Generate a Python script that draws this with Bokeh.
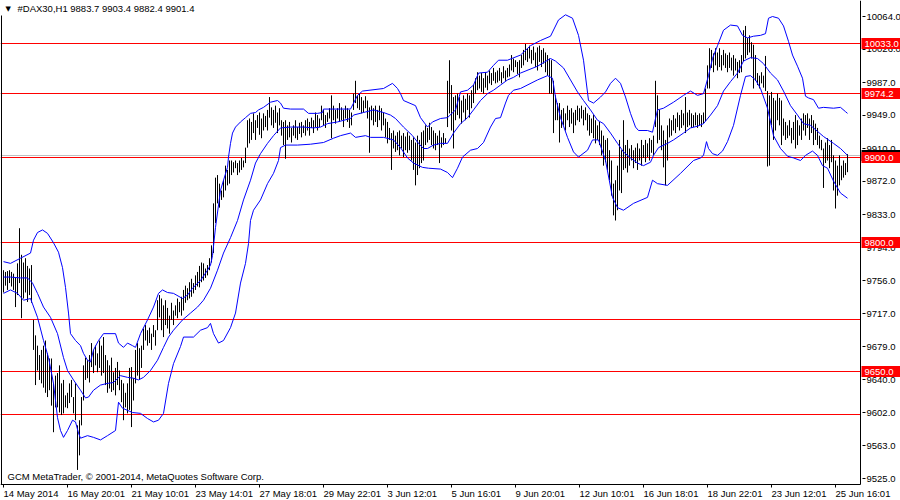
from bokeh.plotting import figure
from bokeh.models import Range1d, FixedTicker, Label
from bokeh.core.properties import value
from bokeh.embed import file_html
from bokeh.resources import INLINE

# ---- data (H1 bars, high / low) ----
highs = [
    9768, 9766, 9767, 9768, 9766, 9764, 9760, 9776, 9817, 9786,
    9777, 9782, 9773, 9770, 9774, 9710, 9692, 9680, 9669, 9675,
    9680, 9686, 9671, 9665, 9665, 9636, 9645, 9648, 9657, 9636,
    9640, 9622, 9625, 9636, 9640, 9620, 9636, 9587, 9593, 9620,
    9657, 9666, 9663, 9669, 9683, 9675, 9680, 9671, 9686, 9680,
    9690, 9669, 9663, 9657, 9666, 9649, 9654, 9661, 9651, 9640,
    9636, 9625, 9636, 9654, 9655, 9642, 9675, 9683, 9677, 9680,
    9700, 9704, 9698, 9701, 9694, 9704, 9698, 9733, 9739, 9735,
    9727, 9733, 9724, 9715, 9730, 9721, 9727, 9735, 9731, 9737,
    9745, 9750, 9747, 9754, 9758, 9753, 9762, 9766, 9773, 9777,
    9776, 9770, 9774, 9782, 9797, 9846, 9876, 9879, 9869, 9861,
    9873, 9890, 9885, 9896, 9896, 9894, 9896, 9893, 9896, 9899,
    9896, 9911, 9943, 9945, 9941, 9951, 9943, 9949, 9952, 9945,
    9951, 9948, 9955, 9970, 9958, 9955, 9960, 9952, 9957, 9943,
    9941, 9943, 9937, 9941, 9934, 9937, 9943, 9935, 9940, 9941,
    9937, 9943, 9945, 9941, 9946, 9943, 9952, 9949, 9945, 9960,
    9955, 9949, 9952, 9957, 9972, 9960, 9955, 9957, 9963, 9958,
    9955, 9960, 9957, 9955, 9952, 9974, 9989, 9972, 9974, 9970,
    9966, 9971, 9966, 9958, 9960, 9957, 9960, 9955, 9960, 9957,
    9952, 9945, 9941, 9934, 9928, 9931, 9925, 9929, 9931, 9925,
    9928, 9924, 9929, 9925, 9920, 9923, 9917, 9925, 9920, 9929,
    9931, 9937, 9934, 9940, 9935, 9931, 9928, 9925, 9931, 9923,
    9928, 9922, 9989, 10013, 9984, 9970, 9972, 9974, 9970, 9966,
    9972, 9968, 9974, 9972, 9978, 9984, 9992, 9999, 9995, 9998,
    9992, 9999, 9995, 10001, 9998, 10004, 9999, 10001, 10004, 9999,
    10006, 10001, 10004, 10008, 10019, 10015, 10013, 10011, 10013, 10019,
    10025, 10032, 10027, 10030, 10025, 10029, 10022, 10028, 10030, 10025,
    10027, 10022, 10019, 10015, 10013, 9989, 9972, 9963, 9963, 9955,
    9957, 9951, 9960, 9955, 9957, 9952, 9955, 9960, 9957, 9960,
    9955, 9958, 9951, 9949, 9945, 9949, 9943, 9937, 9941, 9931,
    9925, 9920, 9922, 9908, 9896, 9869, 9873, 9890, 9920, 9908,
    9943, 9914, 9920, 9910, 9914, 9908, 9911, 9916, 9910, 9920,
    9914, 9920, 9916, 9922, 9920, 9925, 9989, 9972, 9955, 9937,
    9931, 9920, 9937, 9945, 9943, 9949, 9945, 9952, 9949, 9955,
    9951, 9970, 9952, 9955, 9951, 9949, 9952, 9949, 9951, 9949,
    9952, 9980, 10007, 10027, 10025, 10021, 10027, 10022, 10027, 10019,
    10025, 10021, 10019, 10022, 10016, 10019, 10015, 10011, 10013, 10019,
    10048, 10053, 10039, 10042, 10034, 10031, 10019, 9998, 9995, 9999,
    9995, 10018, 9977, 9972, 9976, 9969, 9966, 9974, 9969, 9966,
    9945, 9941, 9937, 9943, 9934, 9941, 9949, 9943, 9937, 9945,
    9951, 9949, 9951, 9945, 9949, 9943, 9939, 9934, 9925, 9920,
    9910, 9917, 9922, 9914, 9920, 9902, 9896, 9890, 9902, 9890,
    9896, 9893, 9903.4,
]
lows = [
    9742, 9750, 9745, 9753, 9749, 9745, 9725, 9739, 9753, 9712,
    9735, 9742, 9731, 9739, 9730, 9675, 9634, 9651, 9640, 9636,
    9631, 9625, 9620, 9628, 9610, 9579, 9608, 9608, 9602, 9599,
    9601, 9608, 9607, 9613, 9620, 9601, 9593, 9535, 9552, 9587,
    9616, 9640, 9642, 9637, 9655, 9648, 9657, 9649, 9654, 9645,
    9648, 9634, 9625, 9630, 9626, 9628, 9622, 9634, 9628, 9614,
    9593, 9608, 9601, 9605, 9585, 9616, 9636, 9645, 9640, 9654,
    9675, 9686, 9680, 9683, 9675, 9690, 9680, 9698, 9713, 9698,
    9690, 9704, 9700, 9694, 9710, 9704, 9715, 9712, 9719, 9715,
    9721, 9730, 9733, 9735, 9737, 9741, 9745, 9749, 9748, 9754,
    9756, 9759, 9762, 9768, 9777, 9788, 9823, 9846, 9841, 9850,
    9853, 9861, 9867, 9869, 9879, 9882, 9887, 9879, 9882, 9885,
    9888, 9893, 9911, 9916, 9920, 9928, 9920, 9934, 9926, 9922,
    9931, 9935, 9931, 9946, 9937, 9934, 9940, 9928, 9937, 9925,
    9914, 9898, 9920, 9923, 9917, 9925, 9922, 9920, 9927, 9923,
    9928, 9925, 9931, 9925, 9934, 9928, 9935, 9931, 9935, 9943,
    9937, 9934, 9941, 9945, 9922, 9943, 9939, 9945, 9941, 9943,
    9935, 9945, 9941, 9934, 9937, 9955, 9963, 9957, 9955, 9951,
    9952, 9957, 9945, 9905, 9943, 9937, 9941, 9935, 9943, 9931,
    9937, 9923, 9916, 9920, 9885, 9910, 9906, 9908, 9902, 9910,
    9900, 9908, 9905, 9908, 9896, 9885, 9867, 9879, 9887, 9893,
    9896, 9914, 9917, 9920, 9914, 9910, 9908, 9914, 9893, 9911,
    9914, 9916, 9935, 9951, 9931, 9910, 9943, 9949, 9945, 9939,
    9952, 9943, 9955, 9946, 9957, 9963, 9974, 9978, 9980, 9976,
    9974, 9981, 9978, 9986, 9984, 9989, 9986, 9987, 9989, 9986,
    9992, 9989, 9993, 9994, 10001, 9999, 10005, 9997, 9993, 10004,
    10007, 10013, 10011, 10015, 10009, 10013, 10005, 10001, 10011, 10005,
    10009, 9999, 9995, 9974, 9974, 9928, 9943, 9943, 9917, 9934,
    9937, 9931, 9943, 9935, 9939, 9928, 9937, 9943, 9941, 9945,
    9937, 9943, 9931, 9925, 9928, 9922, 9916, 9920, 9914, 9902,
    9890, 9894, 9885, 9873, 9855, 9832, 9826, 9838, 9861, 9858,
    9885, 9887, 9882, 9890, 9896, 9887, 9893, 9885, 9896, 9890,
    9899, 9894, 9900, 9896, 9905, 9902, 9935, 9916, 9920, 9908,
    9888, 9867, 9896, 9923, 9925, 9931, 9928, 9935, 9931, 9934,
    9937, 9928, 9935, 9937, 9934, 9935, 9937, 9934, 9937, 9935,
    9939, 9942, 9980, 9980, 10004, 9999, 10007, 10001, 10005, 10001,
    10007, 10004, 9999, 10004, 10001, 9995, 10001, 9992, 9998, 9999,
    10012, 10015, 10019, 10022, 10015, 9980, 9989, 9984, 9980, 9986,
    9981, 9977, 9889, 9890, 9937, 9920, 9931, 9943, 9937, 9914,
    9925, 9920, 9922, 9925, 9916, 9920, 9910, 9914, 9925, 9920,
    9931, 9925, 9934, 9920, 9928, 9914, 9920, 9914, 9910, 9908,
    9864, 9893, 9896, 9887, 9894, 9861, 9840, 9855, 9867, 9873,
    9876, 9879, 9882.4,
]

# Bollinger bands: (bar index, price)
upper_band = [
    (0, 9778), (3.5, 9776), (8.5, 9782), (13.5, 9788), (15, 9803), (17, 9812), (19.5, 9815),
    (22, 9811), (25, 9800), (27.5, 9789), (29.5, 9771), (31, 9748), (32.5, 9718), (33.5, 9694),
    (36, 9686), (38.5, 9680), (40, 9671), (42, 9663), (43.5, 9661), (45, 9675), (47.5, 9686),
    (50, 9694), (56, 9694), (57.5, 9683), (60, 9678), (62, 9683), (64.5, 9680), (66, 9678),
    (68.5, 9694), (72, 9710), (75, 9725), (77.5, 9741), (79.5, 9745), (82, 9742), (85, 9741),
    (89.5, 9735), (92, 9739), (94.5, 9747), (98.5, 9756), (102, 9768), (103.5, 9774), (104.5, 9785),
    (106, 9818), (108.5, 9861), (110, 9873), (112, 9888), (112.5, 9900), (113.5, 9916), (114.5, 9928),
    (116, 9935), (118.5, 9941), (121, 9946), (123.5, 9951), (126, 9952), (127.5, 9955), (130, 9958),
    (133.5, 9964), (137, 9966), (138.5, 9963), (140, 9957), (143.5, 9956), (150, 9956), (152.5, 9951),
    (157, 9951), (159.5, 9952), (160, 9956), (168.5, 9956), (173.5, 9956), (177, 9972), (179.5, 9977),
    (190, 9980), (194.5, 9986), (197, 9980), (198.5, 9974), (200, 9966), (206, 9960), (208.5, 9946),
    (212, 9935), (214.5, 9941), (218.5, 9945), (222, 9946), (226, 9955), (228.5, 9976), (232, 9978),
    (235, 9984), (237.5, 9998), (242, 9999), (245, 10007), (247.5, 10013), (252, 10013), (258.5, 10019),
    (263.5, 10030), (268.5, 10036), (273.5, 10041), (277.5, 10060), (281, 10066), (284.5, 10062),
    (287.5, 10042), (290, 10013), (292.5, 9966), (295, 9963), (298.5, 9970), (301, 9976), (303.5, 9986),
    (306, 9992), (308.5, 9986), (311, 9970), (313.5, 9951), (316, 9935), (317.5, 9931), (322, 9931),
    (324.5, 9929), (326, 9945), (327, 9955), (330, 9957), (335, 9964), (340, 9972), (343.5, 9977),
    (347, 9972), (350, 9974), (352.5, 9995), (354.5, 10015), (357, 10030), (360, 10048), (363.5, 10054),
    (367, 10053), (369.5, 10042), (372, 10039), (375, 10041), (378.5, 10042), (381, 10044), (382.5, 10062),
    (384.5, 10064), (387.5, 10062), (390, 10053), (392.5, 10035), (394.5, 10019), (397, 10006),
    (399.5, 9992), (401, 9971), (402.5, 9969), (405, 9967), (407.5, 9957), (410, 9958), (415, 9957),
    (418.5, 9958), (421, 9953), (422, 9951),
]
middle_band = [
    (0, 9760), (3.5, 9760), (8.5, 9759), (12, 9759), (14.5, 9753), (17, 9741), (20, 9725),
    (23.5, 9713), (27, 9694), (30, 9666), (32, 9651), (35, 9640), (38.5, 9628), (41, 9619),
    (42.5, 9620), (45, 9628), (48.5, 9634), (52, 9636), (55, 9637), (58.5, 9645), (62, 9643),
    (65, 9642), (67.5, 9640), (70, 9643), (73.5, 9651), (77, 9663), (80, 9678), (82.5, 9690),
    (85, 9698), (89.5, 9710), (93.5, 9718), (97, 9725), (100, 9733), (103.5, 9747), (107, 9768),
    (110, 9788), (113.5, 9806), (117, 9826), (120, 9850), (123.5, 9873), (126, 9893), (128.5, 9904),
    (132, 9916), (135, 9925), (138.5, 9934), (143.5, 9935), (150, 9935), (155, 9934), (158.5, 9935),
    (162, 9939), (167, 9941), (173.5, 9945), (175, 9949), (180, 9952), (185, 9955), (190, 9952),
    (193.5, 9949), (196, 9945), (200, 9935), (204.5, 9925), (207.5, 9916), (210, 9910), (212, 9910),
    (215, 9914), (218.5, 9916), (222, 9916), (225, 9928), (228.5, 9939), (232, 9946), (235, 9955),
    (238.5, 9966), (242, 9974), (245, 9978), (248.5, 9984), (252, 9990), (255, 9993), (258.5, 9998),
    (267, 10006), (273.5, 10015), (276, 10012), (280, 10004), (283.5, 9990), (287, 9976), (290, 9966),
    (293.5, 9955), (297, 9943), (300, 9939), (303.5, 9928), (307, 9916), (310, 9906), (313.5, 9899),
    (317, 9893), (320, 9890), (323.5, 9894), (325, 9902), (327.5, 9911), (332, 9916), (335, 9920),
    (340, 9928), (343.5, 9934), (347, 9936), (350, 9939), (353.5, 9949), (357, 9960), (360, 9977),
    (363.5, 9988), (367, 9998), (370, 10012), (373.5, 10016), (377, 10015), (380, 10009), (383.5, 9998),
    (387, 9990), (390, 9977), (393.5, 9960), (397, 9949), (400, 9939), (403.5, 9937), (407, 9930),
    (410, 9924), (415, 9916), (418.5, 9910), (422, 9902),
]
lower_band = [
    (0, 9741), (3.5, 9745), (7, 9741), (10, 9733), (13.5, 9735), (17, 9713), (20, 9686),
    (22.5, 9666), (25, 9636), (27, 9596), (28.5, 9581), (30, 9573), (32, 9581), (34.5, 9593),
    (36, 9591), (37.5, 9578), (38.5, 9572), (42, 9575), (45, 9573), (48.5, 9570), (52, 9575),
    (56, 9581), (57.5, 9614), (59.5, 9607), (64.5, 9602), (68.5, 9601), (72, 9595), (75, 9591),
    (77.5, 9593), (80, 9601), (82.5, 9636), (85, 9659), (88.5, 9679), (90, 9690), (95, 9690),
    (98.5, 9698), (102, 9701), (103.5, 9706), (105, 9694), (107.5, 9683), (110, 9686), (113.5, 9701),
    (116, 9718), (118.5, 9753), (121, 9776), (122.5, 9799), (123.5, 9826), (125, 9838), (128.5, 9850),
    (132, 9869), (135, 9881), (137.5, 9896), (138.5, 9911), (141, 9914), (147, 9914), (153.5, 9915),
    (160, 9917), (165, 9922), (168.5, 9925), (173.5, 9928), (176, 9923), (181, 9925), (183.5, 9923),
    (190, 9923), (195, 9920), (198.5, 9911), (202, 9899), (205, 9893), (209.5, 9888), (212.5, 9887),
    (218.5, 9886), (222, 9882), (224.5, 9876), (227, 9887), (229.5, 9900), (233.5, 9908), (237, 9910),
    (240, 9917), (243.5, 9935), (246, 9945), (248.5, 9946), (251, 9963), (252.5, 9972), (255, 9978),
    (258.5, 9980), (267, 9990), (272, 9995), (274.5, 9992), (276, 9970), (278.5, 9946), (282, 9923),
    (285, 9906), (287.5, 9900), (292, 9908), (294.5, 9920), (297.5, 9920), (301, 9896), (304.5, 9853),
    (307, 9841), (310, 9838), (315, 9846), (322, 9853), (324.5, 9873), (327, 9869), (332, 9867),
    (338.5, 9881), (345, 9896), (348.5, 9899), (350, 9902), (351.5, 9918), (352.5, 9910), (354.5, 9904),
    (357, 9902), (359.5, 9907), (362, 9918), (365, 9937), (368.5, 9972), (371, 9994), (373.5, 9995),
    (376, 9990), (378.5, 9980), (382, 9957), (385, 9925), (388.5, 9910), (392, 9901), (395, 9899),
    (398.5, 9896), (401, 9902), (404.5, 9907), (407, 9902), (409.5, 9890), (412, 9887), (415, 9872),
    (418.5, 9858), (422, 9852),
]

level_prices = [10033.0, 9974.2, 9900.0, 9800.0, 9710.0, 9650.0, 9600.0]
labeled_levels = [10033.0, 9974.2, 9900.0, 9800.0, 9650.0]
bid_price = 9901.4
price_ticks = [10064, 10026, 9987, 9949, 9910, 9872, 9833, 9794, 9756, 9717, 9679, 9640, 9602, 9563, 9525]
time_tick_bars = [0, 32, 64, 96, 128, 160, 192, 224, 256, 288, 320, 352, 384, 416]
time_tick_labels = ["14 May 2014", "16 May 20:01", "21 May 10:01", "23 May 14:01", "27 May 18:01",
                    "29 May 22:01", "3 Jun 12:01", "5 Jun 16:01", "9 Jun 20:01", "12 Jun 10:01",
                    "16 Jun 18:01", "18 Jun 22:01", "23 Jun 12:01", "25 Jun 16:01"]
title_text = "#DAX30,H1  9883.7 9903.4 9882.4 9901.4"
copyright_text = "GCM MetaTrader, \u00a9 2001-2014, MetaQuotes Software Corp."

FONT = "Liberation Sans"
FS = "9.5px"

# ---- geometry: 2 px per bar, 7/6 price units per px ----
PX_BAR = 0.5            # bars per pixel
PX_PRICE = 7.0 / 6.0    # price per pixel
FW, FH = 900, 487
X0 = -1.5
X1 = X0 + FW * PX_BAR
Y1 = 10082.67
Y0 = Y1 - FH * PX_PRICE

def bx(px):   # horizontal pixel -> bar coordinate
    return X0 + px * PX_BAR

def py(px):   # vertical pixel (from top) -> price
    return Y1 - px * PX_PRICE

def snap(price):   # draw a horizontal level on a whole pixel row, as the terminal does
    return py(round((Y1 - price) / PX_PRICE))

p = figure(frame_width=FW, frame_height=FH, x_range=Range1d(X0, X1), y_range=Range1d(Y0, Y1),
           y_axis_location=None, output_backend="svg", toolbar_location=None,
           min_border_left=0, min_border_top=0, min_border_right=0, min_border_bottom=0)
p.grid.visible = False
p.outline_line_color = None
p.background_fill_color = "white"
p.border_fill_color = "white"

# time axis: labels only, each centred so that it starts at its tick
char_w = {"0": .556, "1": .556, "2": .556, "3": .556, "4": .556, "5": .556, "6": .556, "7": .556,
          "8": .556, "9": .556, " ": .278, ":": .278, "M": .833, "a": .556, "y": .5, "J": .5,
          "u": .556, "n": .556}
fs_px = 9.5
label_pos = []
for t, lab in zip(time_tick_bars, time_tick_labels):
    w = sum(char_w.get(c, .556) for c in lab) * fs_px
    label_pos.append(round(t + w / 2 * PX_BAR, 3))
p.xaxis.ticker = FixedTicker(ticks=label_pos)
p.xaxis.major_label_overrides = {pos: lab for pos, lab in zip(label_pos, time_tick_labels)}
p.xaxis.major_tick_out = 0
p.xaxis.major_tick_in = 0
p.xaxis.minor_tick_out = 0
p.xaxis.minor_tick_in = 0
p.xaxis.major_label_standoff = 0
p.xaxis.axis_line_color = None
p.xaxis.major_label_text_font = FONT
p.xaxis.major_label_text_font_size = FS
p.xaxis.major_label_text_color = "black"

AXIS_X = bx(860)
BOTTOM = py(484)

# horizontal levels (chart area only)
p.segment(x0=[X0], y0=[snap(bid_price)], x1=[AXIS_X], y1=[snap(bid_price)], line_color="#c0c0c0", line_width=1)
lv_y = [snap(v) for v in level_prices]
p.segment(x0=[X0] * len(level_prices), y0=lv_y, x1=[AXIS_X] * len(level_prices), y1=lv_y,
          line_color="#ff0000", line_width=1)

# bars
idx = list(range(len(highs)))
p.segment(x0=idx, y0=lows, x1=idx, y1=highs, line_color="black", line_width=1)

# bands
for band in (upper_band, middle_band, lower_band):
    p.line([b[0] for b in band], [b[1] for b in band], line_color="#0000ff", line_width=1)

# chart frame: left border, bottom line, price axis line
p.segment(x0=[bx(1), X0, AXIS_X], y0=[py(15), BOTTOM, py(0)], x1=[bx(1), AXIS_X, AXIS_X], y1=[BOTTOM, BOTTOM, BOTTOM],
          line_color="black", line_width=1)
# time ticks
p.segment(x0=time_tick_bars, y0=[BOTTOM] * len(time_tick_bars), x1=time_tick_bars, y1=[py(488)] * len(time_tick_bars),
          line_color="black", line_width=1)
# price ticks and labels
tick_y = [snap(v) for v in price_ticks]
p.segment(x0=[bx(862)] * len(price_ticks), y0=tick_y, x1=[bx(865)] * len(price_ticks), y1=tick_y,
          line_color="black", line_width=1)
p.text(x=[bx(866)] * len(price_ticks), y=price_ticks, text=[f"{v:.1f}" for v in price_ticks],
       text_font=value(FONT), text_font_size=value(FS), text_baseline="middle", text_align="left",
       text_color="black")

# price tags
half = 5.5 * PX_PRICE
bid_y = snap(bid_price)
p.quad(left=[bx(861)], right=[bx(900)], bottom=[bid_y - half], top=[bid_y + half],
       fill_color="black", line_color=None)
tag_y = [snap(v) for v in labeled_levels]
p.quad(left=[bx(861)] * len(labeled_levels), right=[bx(900)] * len(labeled_levels),
       bottom=[v - half for v in tag_y], top=[v + half for v in tag_y],
       fill_color="#ff0000", line_color=None)
p.text(x=[bx(864)] * len(labeled_levels), y=tag_y, text=[f"{v:.1f}" for v in labeled_levels],
       text_font=value(FONT), text_font_size=value(FS), text_baseline="middle", text_align="left",
       text_color="white")

# title and copyright
p.add_layout(Label(x=bx(5), y=py(8), text="\u25bc", text_align="left", text_baseline="middle",
                   text_font="DejaVu Sans", text_font_size="7px", text_color="black"))
p.add_layout(Label(x=bx(17), y=py(8), text=title_text, text_align="left", text_baseline="middle",
                   text_font=FONT, text_font_size=FS, text_color="black"))
p.add_layout(Label(x=bx(7), y=py(475.5), text=copyright_text, text_align="left", text_baseline="middle",
                   text_font=FONT, text_font_size=FS, text_color="black"))

open("out.html", "w").write(file_html(p, INLINE))
